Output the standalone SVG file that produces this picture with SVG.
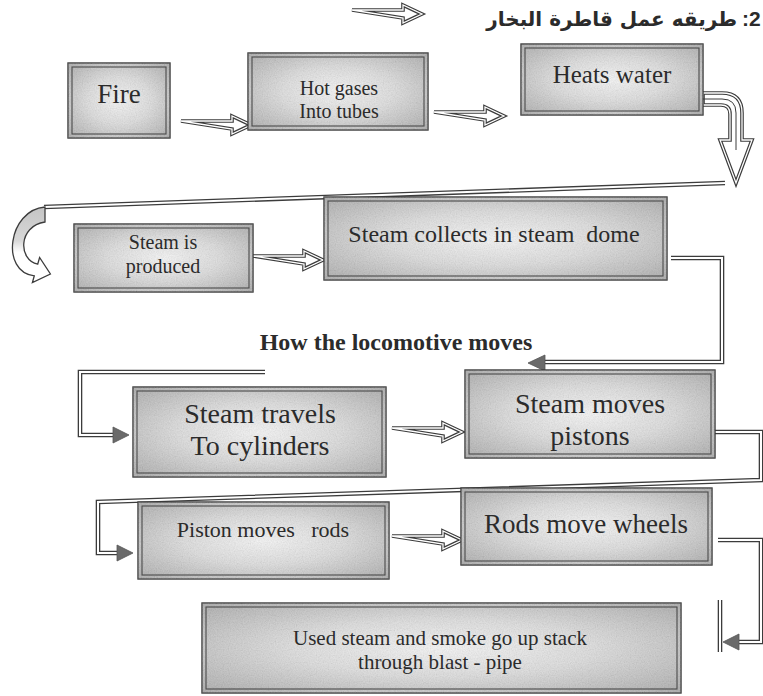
<svg xmlns="http://www.w3.org/2000/svg" xmlns:xlink="http://www.w3.org/1999/xlink" width="763" height="696" viewBox="0 0 763 696">
<defs>
<style>
.bo{fill:url(#g);stroke:#3a3a3a;stroke-width:1.4}
.nz{fill:#000;filter:url(#grain)}
.bi{fill:none;stroke:#4a4a4a;stroke-width:1.1}
.t{font-family:"Liberation Serif","Times New Roman",serif;fill:#2b2b2b;text-anchor:middle;white-space:pre}
.k{fill:#fff;stroke:#3c3c3c;stroke-width:3.6;stroke-linejoin:miter}
.w{fill:none;stroke:#fff;stroke-width:1.3;stroke-linejoin:miter}
.dk{fill:none;stroke:#3c3c3c;stroke-width:4.6}
.dw{fill:none;stroke:#fff;stroke-width:2}
.ah{fill:#6a6a6a;stroke:#555;stroke-width:0.8}
</style>
<radialGradient id="g" cx="50%" cy="50%" r="70%">
<stop offset="0" stop-color="#f8f8f8"/>
<stop offset="0.45" stop-color="#dedede"/>
<stop offset="1" stop-color="#a8a8a8"/>
</radialGradient>
<linearGradient id="cg" x1="0" y1="0" x2="0" y2="1">
<stop offset="0" stop-color="#c4c4c4"/>
<stop offset="0.45" stop-color="#d8d8d8"/>
<stop offset="0.6" stop-color="#fff"/>
</linearGradient>
<filter id="grain" x="0" y="0" width="100%" height="100%">
<feTurbulence type="fractalNoise" baseFrequency="0.85" numOctaves="2" seed="5"/>
<feColorMatrix type="saturate" values="0"/>
<feComponentTransfer><feFuncA type="linear" slope="0" intercept="0.2"/></feComponentTransfer>
<feComposite in2="SourceGraphic" operator="in"/>
</filter>
<path id="ha" d="M0,-4 H51 V-9 L70,0 L51,9 V4 Z"/>
</defs>
<rect width="763" height="696" fill="#fff"/>

<g id="title">
<g transform="translate(352,14)"><use xlink:href="#ha" class="k"/><use xlink:href="#ha" class="w"/></g>
<text x="737" y="26" font-family="'DejaVu Sans','Noto Sans',sans-serif" font-size="20" font-weight="bold" fill="#2b2b2b" text-anchor="end">طريقه عمل قاطرة البخار</text>
<text x="742" y="26" font-family="'Liberation Sans',Arial,sans-serif" font-size="21" font-weight="bold" fill="#2b2b2b">:2</text>
</g>

<g id="connectors">
<g transform="translate(181,125)"><use xlink:href="#ha" class="k"/><use xlink:href="#ha" class="w"/></g>
<g transform="translate(434,116)"><use xlink:href="#ha" class="k"/><use xlink:href="#ha" class="w"/></g>
<g transform="translate(253,260)"><use xlink:href="#ha" class="k"/><use xlink:href="#ha" class="w"/></g>
<g transform="translate(392,432)"><use xlink:href="#ha" class="k"/><use xlink:href="#ha" class="w"/></g>
<g transform="translate(392,540)"><use xlink:href="#ha" class="k"/><use xlink:href="#ha" class="w"/></g>
<path d="M703,93 H722 Q742,93 742,113 V140 H752 L736,183 L720,140 H730 V114 Q730,105 721,105 H703 Z" class="k"/>
<path d="M703,93 H722 Q742,93 742,113 V140 H752 L736,183 L720,140 H730 V114 Q730,105 721,105 H703 Z" class="w"/>
<path d="M703,99 H722 Q736,99 736,113 V150" fill="none" stroke="#3c3c3c" stroke-width="1"/>
<path d="M725,183 L44,207" class="dk"/><path d="M725,183 L44,207" class="dw"/>
<path d="M45,207 C8,210 0,272 34.3,275.8 L32.4,282.5 L50.4,274 L39.6,257.5 L37.7,264.2 C18,260 18,226 45,222 Z" fill="url(#cg)" stroke="#3c3c3c" stroke-width="1.3"/>
<path d="M671,258 H722 V362 H542" class="dk"/><path d="M671,258 H722 V362 H542" class="dw"/>
<polygon points="528,363 545,355 545,371" class="ah"/>
<path d="M265,372 H80 V435 H114" class="dk"/><path d="M265,372 H80 V435 H114" class="dw"/>
<polygon points="129,435 113,427 113,443" class="ah"/>
<path d="M715,432 H761 V480 L98,502 V553 H118" class="dk"/><path d="M715,432 H761 V480 L98,502 V553 H118" class="dw"/>
<polygon points="133,553 117,545 117,561" class="ah"/>
<path d="M718,540 H761 V642 H737" class="dk"/><path d="M718,540 H761 V642 H737" class="dw"/>
<polygon points="723,642 739,634 739,650" class="ah"/>
<path d="M720,600 V652" class="dk"/><path d="M720,600 V652" class="dw"/>
</g>

<g id="fire">
<rect x="68" y="63" width="102" height="75" class="bo"/><rect x="68" y="63" width="102" height="75" class="nz"/><rect x="72" y="67" width="94" height="67" class="bi"/>
<text x="119" y="103" font-size="27" class="t">Fire</text>
</g>
<g id="hotgases">
<rect x="248" y="53" width="180" height="77" class="bo"/><rect x="248" y="53" width="180" height="77" class="nz"/><rect x="252" y="57" width="172" height="69" class="bi"/>
<text x="339" y="95" font-size="20" class="t">Hot gases</text>
<text x="339" y="118" font-size="20" class="t">Into tubes</text>
</g>
<g id="heatswater">
<rect x="521" y="44" width="182" height="71" class="bo"/><rect x="521" y="44" width="182" height="71" class="nz"/><rect x="525" y="48" width="174" height="63" class="bi"/>
<text x="612" y="83" font-size="25" class="t">Heats water</text>
</g>
<g id="steamproduced">
<rect x="74" y="224" width="179" height="68" class="bo"/><rect x="74" y="224" width="179" height="68" class="nz"/><rect x="78" y="228" width="171" height="60" class="bi"/>
<text x="163" y="249" font-size="20" class="t">Steam is</text>
<text x="163" y="273" font-size="20" class="t">produced</text>
</g>
<g id="steamcollects">
<rect x="324" y="197" width="343" height="83" class="bo"/><rect x="324" y="197" width="343" height="83" class="nz"/><rect x="328" y="201" width="335" height="75" class="bi"/>
<text x="494" y="242" font-size="24" class="t">Steam collects in steam  dome</text>
</g>
<g id="label">
<text x="396" y="350" font-size="24" font-weight="bold" class="t">How the locomotive moves</text>
</g>
<g id="steamtravels">
<rect x="133" y="387" width="253" height="90" class="bo"/><rect x="133" y="387" width="253" height="90" class="nz"/><rect x="137" y="391" width="245" height="82" class="bi"/>
<text x="260" y="423" font-size="28" class="t">Steam travels</text>
<text x="260" y="455" font-size="28" class="t">To cylinders</text>
</g>
<g id="steammoves">
<rect x="465" y="370" width="250" height="88" class="bo"/><rect x="465" y="370" width="250" height="88" class="nz"/><rect x="469" y="374" width="242" height="80" class="bi"/>
<text x="590" y="413" font-size="28" class="t">Steam moves</text>
<text x="590" y="445" font-size="28" class="t">pistons</text>
</g>
<g id="pistonrods">
<rect x="138" y="502" width="251" height="77" class="bo"/><rect x="138" y="502" width="251" height="77" class="nz"/><rect x="142" y="506" width="243" height="69" class="bi"/>
<text x="263" y="537" font-size="22" class="t">Piston moves   rods</text>
</g>
<g id="rodswheels">
<rect x="461" y="488" width="251" height="77" class="bo"/><rect x="461" y="488" width="251" height="77" class="nz"/><rect x="465" y="492" width="243" height="69" class="bi"/>
<text x="586" y="533" font-size="27" class="t">Rods move wheels</text>
</g>
<g id="usedsteam">
<rect x="202" y="603" width="479" height="90" class="bo"/><rect x="202" y="603" width="479" height="90" class="nz"/><rect x="206" y="607" width="471" height="82" class="bi"/>
<text x="440" y="645" font-size="21" class="t">Used steam and smoke go up stack</text>
<text x="440" y="669" font-size="21" class="t">through blast - pipe</text>
</g>
</svg>
